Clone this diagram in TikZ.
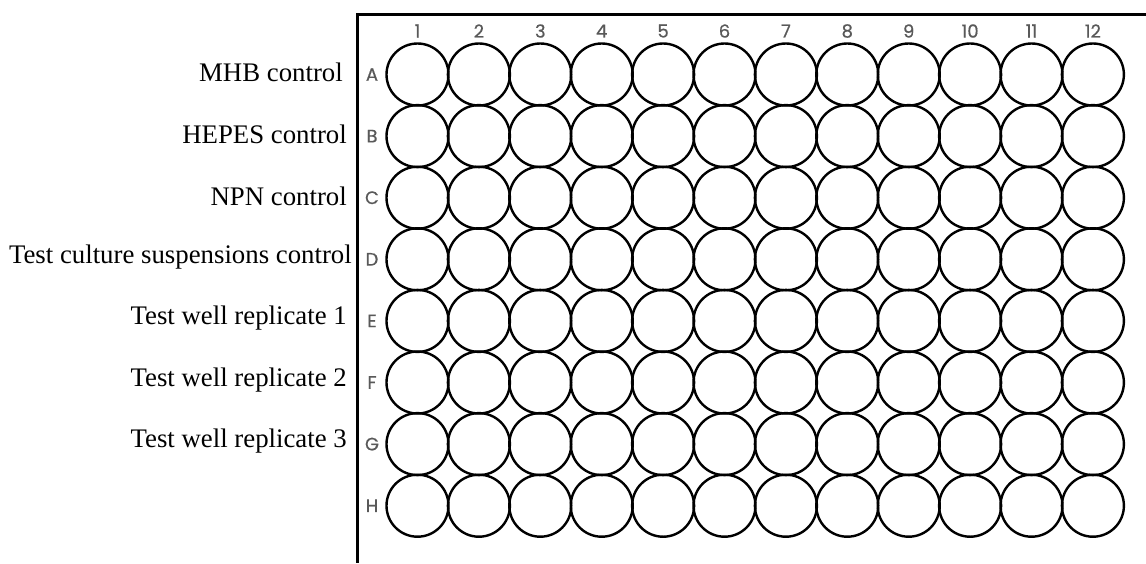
\documentclass[tikz,border=0pt]{standalone}
\usepackage{fontspec}
\setmainfont{Liberation Serif}
\newfontfamily\platefont[FakeBold=0.6]{Poppins}
\begin{document}
\begin{tikzpicture}[x=1pt,y=-1pt,
  well/.style={draw=black,line width=2.4pt,circle,minimum size=62pt,inner sep=0pt},
  idx/.style={font=\platefont\fontsize{18}{18}\selectfont,text=black!65,inner sep=0pt},
  lbl/.style={font=\fontsize{26.8}{26.8}\selectfont,anchor=east,inner sep=0pt},
  frame/.style={line width=3pt,black}]
\useasboundingbox (0,0) rectangle (1146,563);
\coordinate (tl) at (357,14);
\coordinate (tr) at (1146,14);
\coordinate (bl) at (357,563);
\draw[frame] (tr) -- (tl) -- (bl);
\foreach \c in {1,...,12}{
  \node[idx] (col\c) at ({417.5+61.4*(\c-1)},31) {\c};
}
\foreach \r [count=\i from 0] in {A,B,C,D,E,F,G,H}{
  \node[idx] (row\r) at (372,{74.5+61.6*\i}) {\r};
  \foreach \c in {1,...,12}{
    \node[well] (w\r\c) at ({417.5+61.4*(\c-1)},{74.5+61.6*\i}) {};
  }
}
\node[lbl] (lA) at (343,72) {MHB control};
\node[lbl] (lB) at (347,134) {HEPES control};
\node[lbl] (lC) at (347,196) {NPN control};
\node[lbl] (lD) at (352,257) {Test culture suspensions control};
\node[lbl] (lE) at (347,318) {Test well replicate 1};
\node[lbl] (lF) at (347,380) {Test well replicate 2};
\node[lbl] (lG) at (347,441) {Test well replicate 3};
\end{tikzpicture}
\end{document}
